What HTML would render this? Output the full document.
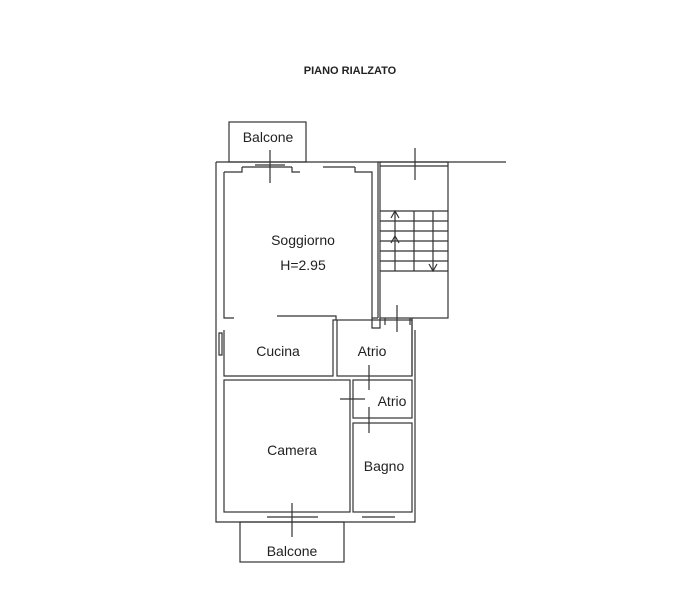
<!DOCTYPE html>
<html><head><meta charset="utf-8"><style>
html,body{margin:0;padding:0;background:#fff}
svg{display:block}
text{font-family:"Liberation Sans",sans-serif;fill:#222}
</style></head><body>
<svg width="700" height="600" viewBox="0 0 700 600" xmlns="http://www.w3.org/2000/svg">
<g fill="none" stroke="#333" stroke-width="1.2">
<text x="350" y="74" font-size="11" font-weight="bold" text-anchor="middle" stroke="none" fill="#111">PIANO RIALZATO</text>
<rect x="229" y="122" width="77" height="40"/>
<line x1="270" y1="150" x2="270" y2="183"/>
<line x1="255" y1="165" x2="285" y2="165"/>
<path d="M216 162 H378 V318 M216 162 V522 H415 V330"/>
<line x1="378" y1="162" x2="506" y2="162"/>
<line x1="242" y1="167" x2="292" y2="167"/>
<line x1="323" y1="167" x2="355" y2="167"/>
<line x1="380" y1="166" x2="448" y2="166"/>
<path d="M224 172 H242 V167 M292 167 V172 H300 M355 167 V172 H372 V318 H378"/>
<path d="M224 172 V318 H234"/>
<path d="M277 316 H336 V320 H333 V376 H224 V330"/>
<path d="M219 333 H222 V355 H219 Z"/>
<rect x="380" y="162" width="68" height="156"/>
<path d="M380 211 H448 M380 221 H448 M380 231 H448 M380 241 H448 M380 251 H448 M380 261 H448 M380 271 H448"/>
<line x1="414" y1="211" x2="414" y2="271"/>
<line x1="395" y1="211" x2="395" y2="271"/>
<line x1="433" y1="211" x2="433" y2="271"/>
<path d="M391 218 L395 211 L399 218 M391 243 L395 236 L399 243 M429 264 L433 271 L437 264"/>
<line x1="415" y1="148" x2="415" y2="180"/>
<line x1="397" y1="305" x2="397" y2="332"/>
<path d="M372 318 V328 H380 V318 M385 318 V325 M410 318 V325 M412 318 V376"/>
<rect x="337" y="320" width="75" height="56"/>
<rect x="224" y="380" width="126" height="132"/>
<rect x="353" y="380" width="59" height="38"/>
<rect x="353" y="423" width="59" height="89"/>
<line x1="369" y1="365" x2="369" y2="390"/>
<line x1="340" y1="399" x2="365" y2="399"/>
<line x1="369" y1="407" x2="369" y2="433"/>
<line x1="267" y1="517" x2="318" y2="517"/>
<line x1="362" y1="517" x2="395" y2="517"/>
<rect x="240" y="522" width="104" height="40"/>
<line x1="292" y1="503" x2="292" y2="537"/>
</g>
<g font-size="14" text-anchor="middle">
<text x="303" y="245">Soggiorno</text>
<text x="303" y="270">H=2.95</text>
<text x="268" y="142">Balcone</text>
<text x="278" y="356">Cucina</text>
<text x="372" y="356">Atrio</text>
<text x="392" y="406">Atrio</text>
<text x="292" y="455">Camera</text>
<text x="384" y="471">Bagno</text>
<text x="292" y="556">Balcone</text>
</g>
</svg>
</body></html>
